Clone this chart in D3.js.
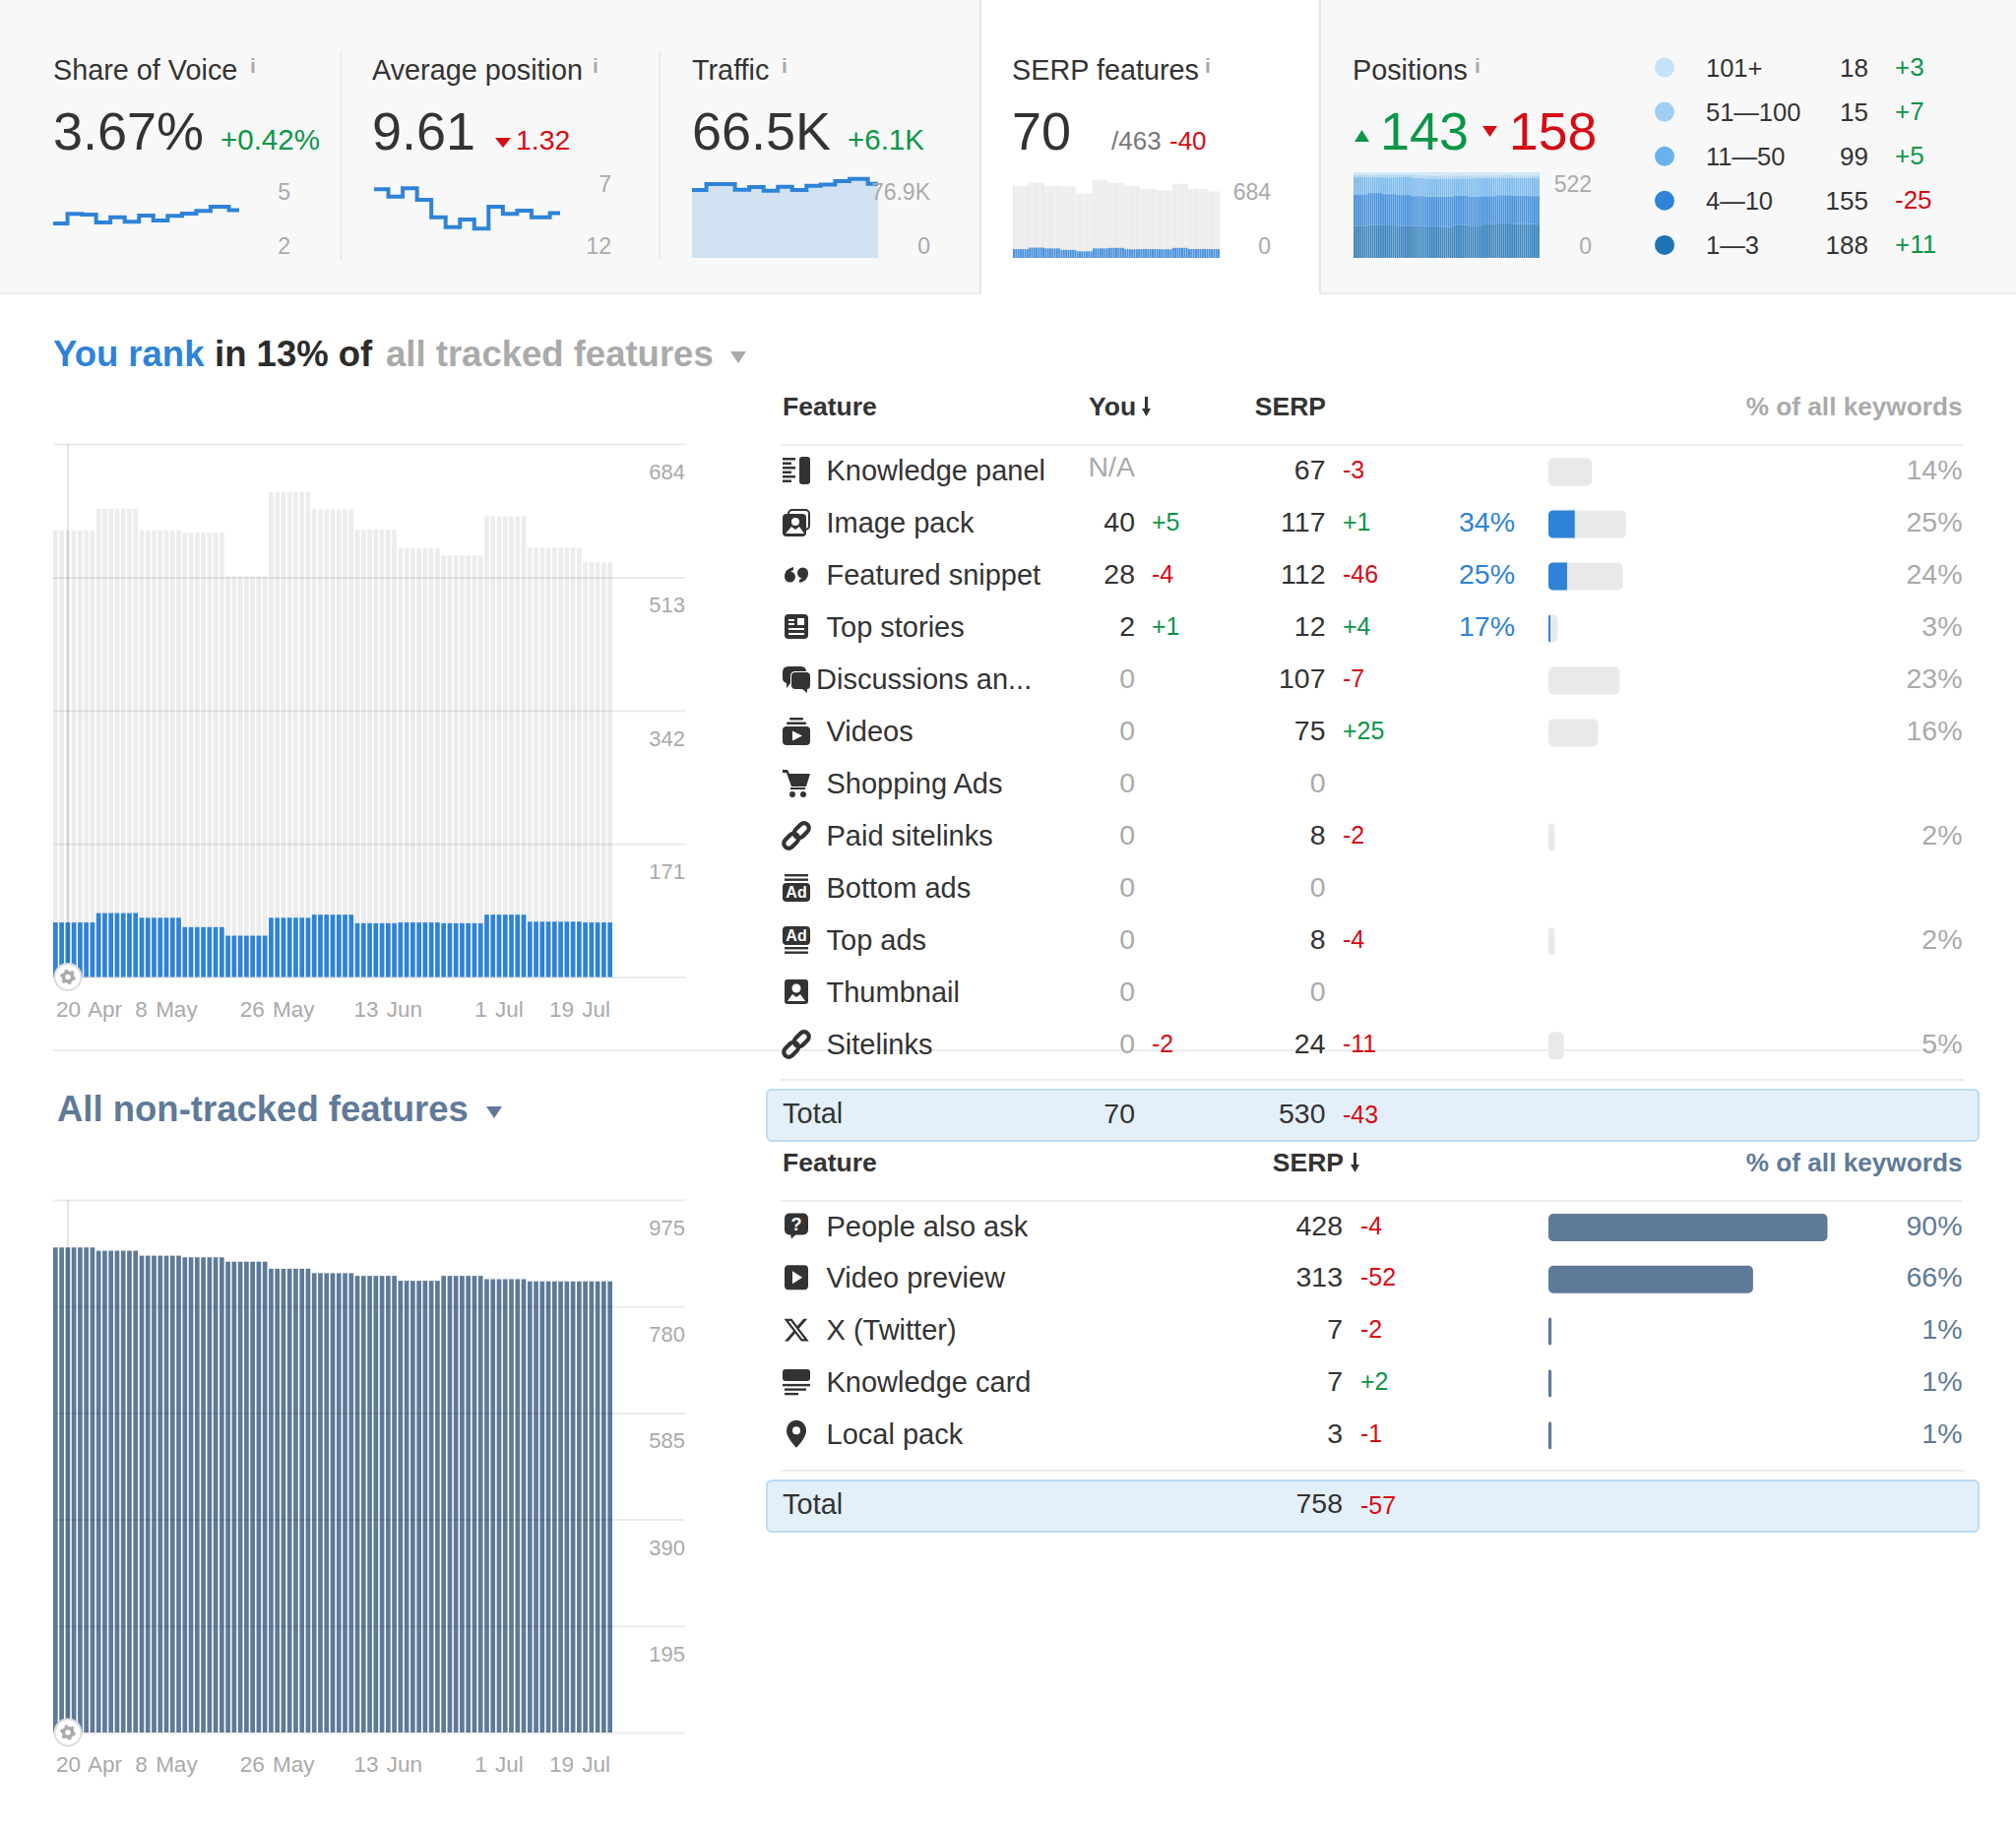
<!DOCTYPE html>
<html lang="en">

<head>
  <meta charset="utf-8">
  <title>SERP features</title>
  <script src="https://d3js.org/d3.v7.min.js"></script>
  <style>
    body {
      margin: 0;
      background: #fff;
    }

    svg text {
      font-family: "Liberation Sans", Arial, sans-serif;
      fill: #333;
    }
  </style>
</head>

<body>
  <svg id="chart" width="2048" height="1855"></svg>
  <script>
    // days in each step of the date axis (20 Apr .. 19 Jul)
    var weekLengths = [7, 7, 7, 7, 7, 7, 7, 7, 7, 7, 7, 9, 5];
    var tickDays = [0, 18, 36, 54, 72, 90];
    var tickDates = ['20 Apr', '8 May', '26 May', '13 Jun', '1 Jul', '19 Jul'];

    // main charts, one value per step
    var serpTracked = [573, 601, 573, 570, 514, 622, 600, 574, 550, 541, 591, 551, 532];
    var youTracked = [70, 82, 76, 64, 53, 76, 80, 69, 70, 69, 80, 71, 70];
    var serpNonTracked = [888, 882, 873, 870, 862, 849, 841, 836, 827, 836, 830, 826, 826];
    var trackedTicks = [684, 513, 342, 171, 0];
    var nonTrackedTicks = [975, 780, 585, 390, 195, 0];

    // top sparklines
    var voiceSeries = [3.21, 3.54, 3.52, 3.24, 3.42, 3.27, 3.48, 3.31, 3.47, 3.55, 3.65, 3.79, 3.67];
    var avgPosSeries = [8.33, 8.72, 8.28, 8.89, 9.83, 10.36, 9.95, 10.44, 9.26, 9.65, 9.47, 9.83, 9.61];
    var trafficSeries = [60.9, 66.2, 66.2, 61.2, 63.6, 60.3, 63.8, 60.9, 64.7, 65.9, 68.9, 70.9, 66.5];

    // positions stack, bottom to top
    var pos1to3 = [179, 183, 181, 179, 175, 172, 170, 179, 177, 188, 192, 188, 188];
    var pos4to10 = [175, 179, 175, 172, 166, 164, 166, 163, 159, 152, 155, 157, 155];
    var pos11to50 = [95, 88, 93, 100, 100, 99, 99, 93, 102, 99, 97, 97, 99];
    var pos51to100 = [14, 14, 15, 14, 15, 16, 16, 15, 15, 15, 14, 15, 15];
    var pos101plus = [14, 14, 14, 13, 16, 19, 19, 19, 18, 18, 16, 17, 18];

    var legendLabels = ['101+', '51—100', '11—50', '4—10', '1—3'];
    var legendCounts = [18, 15, 99, 155, 188];
    var legendDeltas = ['+3', '+7', '+5', '-25', '+11'];
    var legendColors = ['#c5e3f9', '#a1cff3', '#69b2ec', '#2f83d8', '#1e73b6'];

    // tracked features table
    var trackedNames = ['Knowledge panel', 'Image pack', 'Featured snippet', 'Top stories', 'Discussions an...', 'Videos',
      'Shopping Ads', 'Paid sitelinks', 'Bottom ads', 'Top ads', 'Thumbnail', 'Sitelinks'];
    var trackedIcons = ['knowledge', 'imagePack', 'snippet', 'stories', 'discussions', 'videos',
      'cart', 'link', 'bottomAd', 'topAd', 'thumbnail', 'link'];
    var trackedYou = ['N/A', 40, 28, 2, 0, 0, 0, 0, 0, 0, 0, 0];
    var trackedYouDelta = [null, '+5', '-4', '+1', null, null, null, null, null, null, null, '-2'];
    var trackedSerp = [67, 117, 112, 12, 107, 75, 0, 8, 0, 8, 0, 24];
    var trackedSerpDelta = ['-3', '+1', '-46', '+4', '-7', '+25', null, '-2', null, '-4', null, '-11'];
    var trackedShare = [null, 34, 25, 17, null, null, null, null, null, null, null, null];
    var trackedPct = [14, 25, 24, 3, 23, 16, null, 2, null, 2, null, 5];

    // non-tracked features table
    var otherNames = ['People also ask', 'Video preview', 'X (Twitter)', 'Knowledge card', 'Local pack'];
    var otherIcons = ['question', 'videoPreview', 'xLogo', 'card', 'pin'];
    var otherSerp = [428, 313, 7, 7, 3];
    var otherSerpDelta = ['-4', '-52', '-2', '+2', '-1'];
    var otherPct = [90, 66, 1, 1, 1];

    var BLUE = '#2e83d8', SLATE = '#5f7a99', GREY_BAR = '#ececec', GREY_TEXT = '#aaa';
    var GREEN = '#0c9647', RED = '#d60b14', DARK = '#333';

    var svg = d3.select('#chart');

    // one entry per day from the per-step values
    function perDay(values) {
      return d3.merge(values.map(function (v, i) {
        return d3.range(weekLengths[i]).map(function () { return v; });
      }));
    }
    var dayCount = d3.sum(weekLengths);
    var days = d3.range(dayCount);
    var weekStarts = Array.from(d3.cumsum([0].concat(weekLengths))).slice(0, 13);

    function label(parent, x, y, str, size, color, anchor, weight) {
      return parent.append('text')
        .attr('x', x).attr('y', y)
        .attr('font-size', size)
        .attr('text-anchor', anchor || 'start')
        .attr('font-weight', weight || 'normal')
        .style('fill', color || DARK)
        .text(str);
    }

    function deltaColor(d) {
      return d.charAt(0) === '+' ? GREEN : RED;
    }

    function triangle(parent, x, y, w, h, up, color) {
      var pts = up ? [[x, y + h], [x + w, y + h], [x + w / 2, y]] : [[x, y], [x + w, y], [x + w / 2, y + h]];
      parent.append('path').attr('d', d3.line()(pts) + 'Z').attr('fill', color);
    }

    // ---------- top panel ----------
    svg.append('rect').attr('width', 2048).attr('height', 298).attr('fill', '#f8f8f8');
    svg.append('rect').attr('x', 0).attr('y', 297).attr('width', 2048).attr('height', 2).attr('fill', '#ebebeb');
    svg.append('rect').attr('x', 996).attr('y', 0).attr('width', 345).attr('height', 299).attr('fill', '#fff');
    [996, 1341].forEach(function (x) {
      svg.append('line').attr('x1', x).attr('x2', x).attr('y1', 0).attr('y2', 299).attr('stroke', '#e6e6e6').attr('stroke-width', 2);
    });
    [346.5, 670].forEach(function (x) {
      svg.append('line').attr('x1', x).attr('x2', x).attr('y1', 52).attr('y2', 264).attr('stroke', '#e8e8e8').attr('stroke-width', 1.5);
    });

    var titles = [['Share of Voice', 54, 254], ['Average position', 378, 602], ['Traffic', 703, 794], ['SERP features', 1028, 1224], ['Positions', 1374, 1498]];
    titles.forEach(function (t) {
      label(svg, t[1], 81, t[0], 28.8);
      label(svg, t[2], 74, 'i', 21, GREY_TEXT, 'start', 'bold');
    });

    label(svg, 54, 152, '3.67%', 54);
    label(svg, 224, 152, '+0.42%', 29.5, GREEN);
    label(svg, 378, 152, '9.61', 54);
    triangle(svg, 503, 140, 16, 10, false, RED);
    label(svg, 524, 152, '1.32', 28.5, RED);
    label(svg, 703, 152, '66.5K', 54);
    label(svg, 861, 152, '+6.1K', 29.5, GREEN);
    label(svg, 1028, 152, '70', 54);
    label(svg, 1129, 152, '/463', 26, '#777');
    label(svg, 1188, 152, '-40', 26, RED);
    triangle(svg, 1376, 132, 15, 12, true, GREEN);
    label(svg, 1402, 152, '143', 54, GREEN);
    triangle(svg, 1506, 128, 15, 11, false, RED);
    label(svg, 1533, 152, '158', 53.5, RED);

    var sparkTop = 175, sparkBottom = 262;

    function sparkline(series, x0, x1, yScale, area) {
      var x = d3.scaleLinear().domain([0, dayCount]).range([x0, x1]);
      var pts = weekStarts.map(function (s, i) { return [s, series[i]]; });
      pts.push([dayCount, series[series.length - 1]]);
      if (area) {
        svg.append('path')
          .attr('d', d3.area().curve(d3.curveStepAfter)
            .x(function (d) { return x(d[0]); }).y0(yScale(0)).y1(function (d) { return yScale(d[1]); })(pts))
          .attr('fill', '#d0e1f2');
      }
      svg.append('path')
        .attr('d', d3.line().curve(d3.curveStepAfter)
          .x(function (d) { return x(d[0]); }).y(function (d) { return yScale(d[1]); })(pts))
        .attr('fill', 'none').attr('stroke', BLUE).attr('stroke-width', 4);
    }

    sparkline(voiceSeries, 54, 243, d3.scaleLinear().domain([2, 5]).range([sparkBottom, sparkTop]));
    sparkline(avgPosSeries, 380, 569, d3.scaleLinear().domain([12, 7]).range([sparkBottom, 167]));
    sparkline(trafficSeries, 703, 892, d3.scaleLinear().domain([0, 76.9]).range([sparkBottom, sparkTop]), true);

    label(svg, 295, 203, '5', 23, GREY_TEXT, 'end');
    label(svg, 295, 258, '2', 23, GREY_TEXT, 'end');
    label(svg, 621, 195, '7', 23, GREY_TEXT, 'end');
    label(svg, 621, 258, '12', 23, GREY_TEXT, 'end');
    label(svg, 945, 203, '76.9K', 23, GREY_TEXT, 'end');
    label(svg, 945, 258, '0', 23, GREY_TEXT, 'end');
    label(svg, 1291, 203, '684', 23, GREY_TEXT, 'end');
    label(svg, 1291, 258, '0', 23, GREY_TEXT, 'end');
    label(svg, 1617, 195, '522', 23, GREY_TEXT, 'end');
    label(svg, 1617, 258, '0', 23, GREY_TEXT, 'end');

    // SERP features mini bars
    var miniX = d3.scaleBand().domain(days).range([1029, 1239]).paddingInner(0.15);
    var miniY = d3.scaleLinear().domain([0, 684]).range([sparkBottom, sparkTop]);
    drawBars(svg, days, perDay(serpTracked), miniX, miniY, '#ebebeb');
    drawBars(svg, days, perDay(youTracked), miniX, miniY, '#4a92dd');

    // Positions stacked bars
    var posKeys = ['p1', 'p2', 'p3', 'p4', 'p5'];
    var posColors = ['#1e73b6', '#2f83d8', '#69b2ec', '#a1cff3', '#c5e3f9'];
    var posLayers = [perDay(pos1to3), perDay(pos4to10), perDay(pos11to50), perDay(pos51to100), perDay(pos101plus)];
    var posRows = days.map(function (d) {
      var row = { day: d };
      posKeys.forEach(function (k, i) { row[k] = posLayers[i][d]; });
      return row;
    });
    var stacked = d3.stack().keys(posKeys).offset(d3.stackOffsetExpand)(posRows);
    var posX = d3.scaleBand().domain(days).range([1375, 1564]).paddingInner(0.12);
    var posY = d3.scaleLinear().domain([0, 1]).range([sparkBottom, sparkTop]);
    svg.append('g').selectAll('g')
      .data(stacked)
      .enter().append('g')
      .attr('fill', function (d, i) { return posColors[i]; })
      .attr('opacity', 0.85)
      .selectAll('rect')
      .data(function (d) { return d; })
      .enter().append('rect')
      .attr('x', function (d) { return posX(d.data.day); })
      .attr('width', posX.bandwidth())
      .attr('y', function (d) { return posY(d[1]); })
      .attr('height', function (d) { return posY(d[0]) - posY(d[1]); });

    // legend
    legendLabels.forEach(function (name, i) {
      var cy = 68.5 + i * 45.1;
      svg.append('circle').attr('cx', 1691).attr('cy', cy).attr('r', 10).attr('fill', legendColors[i]);
      label(svg, 1733, cy + 9, name, 25.5);
      label(svg, 1898, cy + 9, legendCounts[i], 26, DARK, 'end');
      label(svg, 1925, cy + 8, legendDeltas[i], 26, deltaColor(legendDeltas[i]));
    });

    // ---------- main charts ----------
    function drawBars(parent, keys, values, x, y, color) {
      parent.append('g').selectAll('rect')
        .data(keys)
        .enter().append('rect')
        .attr('x', function (d) { return x(d); })
        .attr('width', x.bandwidth())
        .attr('y', function (d) { return y(values[d]); })
        .attr('height', function (d) { return y(0) - y(values[d]); })
        .attr('fill', color);
    }

    function mainAxes(y, ticks, base) {
      var axisG = svg.append('g')
        .attr('transform', 'translate(696,0)')
        .call(d3.axisLeft(y).tickValues(ticks).tickSize(642)
          .tickFormat(function (d) { return d === 0 ? '' : d; }));
      axisG.select('.domain').remove();
      axisG.selectAll('line').attr('stroke', 'rgba(0,0,0,0.08)').attr('stroke-width', 2);
      axisG.selectAll('text')
        .attr('x', 0).attr('dy', 35.5)
        .attr('text-anchor', 'end')
        .attr('font-size', 22)
        .style('fill', GREY_TEXT);

      var x = d3.scaleBand().domain(days).range([54, 622]).paddingInner(0.25);
      var xAxis = svg.append('g')
        .attr('transform', 'translate(0,' + base + ')')
        .call(d3.axisBottom(x).tickValues(tickDays).tickSize(0).tickPadding(32)
          .tickFormat(function (d, i) { return tickDates[i]; }));
      xAxis.select('.domain').remove();
      xAxis.selectAll('text').attr('font-size', 22.5).attr('dy', 8).attr('word-spacing', 2).style('fill', GREY_TEXT);
      xAxis.selectAll('text').filter(function (d, i) { return i === 0; })
        .attr('text-anchor', 'start').attr('x', 57 - x(0) - x.bandwidth() / 2);
      xAxis.selectAll('text').filter(function (d, i) { return i === tickDays.length - 1; })
        .attr('text-anchor', 'end').attr('x', 620 - x(90) - x.bandwidth() / 2);

      // marker line and settings button at the start of the axis
      svg.append('line').attr('x1', 69).attr('x2', 69).attr('y1', y.range()[1]).attr('y2', base)
        .attr('stroke', 'rgba(0,0,0,0.1)').attr('stroke-width', 2);
      var gear = svg.append('g').attr('transform', 'translate(69,' + base + ')');
      gear.append('circle').attr('r', 13.5).attr('fill', '#fff').attr('stroke', '#ddd').attr('stroke-width', 2);
      gear.append('circle').attr('r', 4.5).attr('fill', 'none').attr('stroke', '#aaa').attr('stroke-width', 3.5);
      gear.append('circle').attr('r', 6.8).attr('fill', 'none').attr('stroke', '#aaa').attr('stroke-width', 2)
        .attr('stroke-dasharray', '3.3 3.8');
    }

    var barX = d3.scaleBand().domain(days).range([54, 622]).paddingInner(0.25);

    var rankY = d3.scaleLinear().domain([0, 684]).range([992.5, 451]);
    drawBars(svg, days, perDay(serpTracked), barX, rankY, GREY_BAR);
    drawBars(svg, days, perDay(youTracked), barX, rankY, BLUE);
    mainAxes(rankY, trackedTicks, 992.5);

    var otherY = d3.scaleLinear().domain([0, 975]).range([1760, 1219]);
    drawBars(svg, days, perDay(serpNonTracked), barX, otherY, SLATE);
    mainAxes(otherY, nonTrackedTicks, 1760);

    // section titles
    label(svg, 54, 372, 'You rank', 36.5, BLUE, 'start', 'bold');
    label(svg, 218, 372, 'in 13% of', 36.5, '#2b2b2b', 'start', 'bold');
    label(svg, 392, 372, 'all tracked features', 36.5, GREY_TEXT, 'start', 'bold');
    triangle(svg, 742, 357, 16, 12, false, GREY_TEXT);
    label(svg, 58, 1139, 'All non-tracked features', 36.5, SLATE, 'start', 'bold');
    triangle(svg, 494, 1124, 16, 12, false, SLATE);

    svg.append('line').attr('x1', 54).attr('x2', 1994).attr('y1', 1067).attr('y2', 1067)
      .attr('stroke', '#ececec').attr('stroke-width', 2);

    // ---------- feature icons, drawn in a 28x28 box ----------
    function rr(g, x, y, w, h, r, fill) {
      return g.append('rect').attr('x', x).attr('y', y).attr('width', w).attr('height', h).attr('rx', r).attr('fill', fill || DARK);
    }
    function shape(g, d, fill) {
      return g.append('path').attr('d', d).attr('fill', fill || DARK);
    }
    function tinyText(g, x, y, str, size) {
      g.append('text').attr('x', x).attr('y', y).attr('font-size', size).attr('font-weight', 'bold')
        .attr('text-anchor', 'middle').style('fill', '#fff').text(str);
    }
    var icons = {
      knowledge: function (g) {
        [1, 5.5, 10, 14.5, 19, 23.5].forEach(function (y, i) { rr(g, 0, y, i % 2 ? 9 : 13, 2.5, 0); });
        rr(g, 17, 0, 11, 28, 3);
      },
      imagePack: function (g) {
        g.append('rect').attr('x', 6).attr('y', 1).attr('width', 21).attr('height', 20).attr('rx', 4)
          .attr('fill', 'none').attr('stroke', DARK).attr('stroke-width', 2);
        rr(g, 0, 5, 24, 23, 4);
        g.append('circle').attr('cx', 13).attr('cy', 13).attr('r', 4).attr('fill', '#fff');
        shape(g, 'M3 25 L9 18 L13 21 L17 18 L22 25Z', '#fff');
      },
      snippet: function (g) {
        g.append('circle').attr('cx', 7.5).attr('cy', 16).attr('r', 5.5).attr('fill', DARK);
        shape(g, 'M2 16 Q2 8 11 6 L11 9 Q8 10 7.5 12Z');
        g.append('circle').attr('cx', 20.5).attr('cy', 12).attr('r', 5.5).attr('fill', DARK);
        shape(g, 'M26 12 Q26 20 17 22 L17 19 Q20 18 20.5 16Z');
      },
      stories: function (g) {
        rr(g, 2, 1, 24, 25, 4);
        rr(g, 15, 5, 7, 7, 0, '#fff');
        rr(g, 6, 6, 6, 2, 0, '#fff');
        rr(g, 6, 10, 6, 2, 0, '#fff');
        rr(g, 6, 15, 16, 2, 0, '#fff');
        rr(g, 6, 20, 16, 2, 0, '#fff');
      },
      discussions: function (g) {
        shape(g, 'M6 1 H18 Q24 1 24 6 H13 Q8 6 8 11 V18 L4 23 V18 Q0 17 0 13 V7 Q0 1 6 1Z');
        shape(g, 'M13 7 H24 Q28 7 28 11 V20 Q28 24 25 24 V28 L20 24 H13 Q9 24 9 20 V11 Q9 7 13 7Z');
      },
      videos: function (g) {
        rr(g, 7, 0, 14, 2.5, 1);
        rr(g, 4, 4.5, 20, 2.5, 1);
        rr(g, 0, 9, 28, 19, 4);
        shape(g, 'M10 13.5 L20 18.5 L10 23.5Z', '#fff');
      },
      cart: function (g) {
        shape(g, 'M0 0 H5 L7 4 H28 L24 17 H9 L4 3 H0Z');
        rr(g, 8, 18, 15, 2, 0);
        g.append('circle').attr('cx', 10).attr('cy', 25).attr('r', 3).attr('fill', DARK);
        g.append('circle').attr('cx', 21).attr('cy', 25).attr('r', 3).attr('fill', DARK);
      },
      link: function (g) {
        var c = g.append('g').attr('transform', 'translate(14,14) rotate(-45)');
        c.append('rect').attr('x', -16).attr('y', -5).attr('width', 17).attr('height', 10).attr('rx', 5)
          .attr('fill', 'none').attr('stroke', DARK).attr('stroke-width', 4.2);
        c.append('rect').attr('x', -1).attr('y', -5).attr('width', 17).attr('height', 10).attr('rx', 5)
          .attr('fill', 'none').attr('stroke', DARK).attr('stroke-width', 4.2);
      },
      bottomAd: function (g) {
        rr(g, 2, 0, 24, 2.4, 0);
        rr(g, 2, 4.5, 24, 2.4, 0);
        rr(g, 0, 9, 28, 19, 4);
        tinyText(g, 14, 24, 'Ad', 16);
      },
      topAd: function (g) {
        rr(g, 0, 0, 28, 19, 4);
        tinyText(g, 14, 15, 'Ad', 16);
        rr(g, 2, 21, 24, 2.4, 0);
        rr(g, 2, 25.5, 24, 2.4, 0);
      },
      thumbnail: function (g) {
        rr(g, 2, 1, 24, 25, 3);
        g.append('circle').attr('cx', 14).attr('cy', 10).attr('r', 4.5).attr('fill', '#fff');
        shape(g, 'M5 23 L10 16 L14 19 L18 16 L23 23Z', '#fff');
      },
      question: function (g) {
        rr(g, 2, 1, 24, 22, 5);
        shape(g, 'M8 22 H14 L9 27Z');
        tinyText(g, 14, 18, '?', 18);
      },
      videoPreview: function (g) {
        rr(g, 2, 1, 24, 25, 4);
        shape(g, 'M10 7 L20 13.5 L10 20Z', '#fff');
      },
      xLogo: function (g) {
        shape(g, 'M18.244 2.25h3.308l-7.227 8.26 8.502 11.24H16.17l-5.214-6.817L4.99 21.75H1.68l7.73-8.835L1.254 2.25H8.08l4.713 6.231zm-1.161 17.52h1.833L7.084 4.126H5.117z')
          .attr('transform', 'translate(0,0) scale(1.17)');
      },
      card: function (g) {
        rr(g, 0, 1, 28, 12, 3);
        rr(g, 0, 16, 28, 2.4, 0);
        rr(g, 2, 20.5, 22, 2.4, 0);
        rr(g, 2, 25, 14, 2.4, 0);
      },
      pin: function (g) {
        shape(g, 'M14 0 C8 0 4 5 4 11 C4 18 14 28 14 28 C14 28 24 18 24 11 C24 5 20 0 14 0Z');
        g.append('circle').attr('cx', 14).attr('cy', 10.5).attr('r', 4).attr('fill', '#fff');
      }
    };

    // ---------- tables ----------
    var pctWidth = d3.scaleLinear().domain([0, 100]).range([0, 315]);
    var tableX = 795, barStart = 1573, pctRight = 1993.5;

    function leftRounded(x, y, w, h, r) {
      var k = Math.min(r, w);
      return 'M' + (x + w) + ' ' + y + 'H' + (x + k) + 'Q' + x + ' ' + y + ' ' + x + ' ' + (y + k) +
        'V' + (y + h - k) + 'Q' + x + ' ' + (y + h) + ' ' + (x + k) + ' ' + (y + h) + 'H' + (x + w) + 'Z';
    }

    function drawRow(cy, icon, name, nameX) {
      icons[icon](svg.append('g').attr('transform', 'translate(795,' + (cy - 14) + ')'));
      label(svg, nameX, cy + 10, name, 29);
    }

    function numberCell(x, cy, v) {
      var col = (v === 0 || v === 'N/A') ? GREY_TEXT : DARK;
      label(svg, x, v === 'N/A' ? cy + 6 : cy + 9, v, 28.5, col, 'end');
    }

    function deltaCell(x, cy, d) {
      if (d) label(svg, x, cy + 8, d, 25, deltaColor(d));
    }

    function pctBar(cy, pct, color) {
      rr(svg, barStart, cy - 14, pctWidth(pct), 28, Math.min(5, pctWidth(pct) / 2), color);
    }

    function hLine(y, x2) {
      svg.append('line').attr('x1', 793).attr('x2', x2).attr('y1', y).attr('y2', y)
        .attr('stroke', '#ececec').attr('stroke-width', 2);
    }

    function totalBox(y) {
      svg.append('rect').attr('x', 779).attr('y', y).attr('width', 1231).attr('height', 52).attr('rx', 5)
        .attr('fill', '#e3f0fa').attr('stroke', '#bcdcf5').attr('stroke-width', 2);
    }

    function sortArrow(x, baseY) {
      svg.append('path')
        .attr('d', 'M' + (x + 3) + ' ' + (baseY - 19) + 'h3v12h3l-4.5 8l-4.5 -8h3z')
        .attr('fill', DARK);
    }

    // tracked table
    label(svg, tableX, 422, 'Feature', 26.5, DARK, 'start', 'bold');
    label(svg, 1106, 422, 'You', 26.5, DARK, 'start', 'bold');
    sortArrow(1160, 422);
    label(svg, 1347, 422, 'SERP', 26.5, DARK, 'end', 'bold');
    label(svg, pctRight, 422, '% of all keywords', 26.2, GREY_TEXT, 'end', 'bold');
    hLine(452, 1994);

    trackedNames.forEach(function (name, i) {
      var cy = 478 + i * 53;
      drawRow(cy, trackedIcons[i], name, name === 'Discussions an...' ? 829 : 839.5);
      numberCell(1153, cy, trackedYou[i]);
      deltaCell(1170, cy, trackedYouDelta[i]);
      numberCell(1346.5, cy, trackedSerp[i]);
      deltaCell(1364, cy, trackedSerpDelta[i]);
      if (trackedShare[i] !== null) {
        label(svg, 1539, cy + 9, trackedShare[i] + '%', 28.5, BLUE, 'end');
      }
      if (trackedPct[i] !== null) {
        pctBar(cy + 1.5, trackedPct[i], '#e9e9e9');
        label(svg, pctRight, cy + 9, trackedPct[i] + '%', 28.5, GREY_TEXT, 'end');
      }
      if (trackedShare[i] !== null) {
        svg.append('path')
          .attr('d', leftRounded(barStart, cy - 12.5, Math.max(2, pctWidth(trackedPct[i]) * trackedShare[i] / 100), 28, 5))
          .attr('fill', BLUE);
      }
    });

    hLine(1097, 1996);
    totalBox(1107);
    label(svg, tableX, 1141, 'Total', 29);
    label(svg, 1153, 1141, '70', 28.5, DARK, 'end');
    label(svg, 1346.5, 1141, '530', 28.5, DARK, 'end');
    label(svg, 1364, 1141, '-43', 25, RED);

    // non-tracked table
    label(svg, tableX, 1190, 'Feature', 26.5, DARK, 'start', 'bold');
    label(svg, 1365, 1190, 'SERP', 26.5, DARK, 'end', 'bold');
    sortArrow(1372, 1190);
    label(svg, pctRight, 1190, '% of all keywords', 26.2, SLATE, 'end', 'bold');
    hLine(1220, 1994);

    otherNames.forEach(function (name, i) {
      var cy = 1245.5 + i * 52.8;
      drawRow(cy, otherIcons[i], name, 839.5);
      numberCell(1364, cy, otherSerp[i]);
      deltaCell(1382, cy, otherSerpDelta[i]);
      pctBar(cy + 1.5, otherPct[i], SLATE);
      label(svg, pctRight, cy + 9, otherPct[i] + '%', 28.5, SLATE, 'end');
    });

    hLine(1494, 1996);
    totalBox(1504);
    label(svg, tableX, 1538, 'Total', 29);
    label(svg, 1364, 1537, '758', 28.5, DARK, 'end');
    label(svg, 1382, 1538, '-57', 25, RED);
  </script>
</body>

</html>
